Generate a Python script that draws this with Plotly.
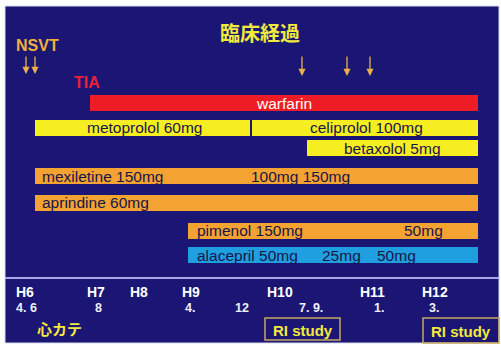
import plotly.graph_objects as go

# Timeline scale: horizontal positions are in timeline units (0-501),
# vertical positions are row centres (0 at top).
era_labels = ["H6", "H7", "H8", "H9", "H10", "H11", "H12"]
era_pos = [14, 85, 128, 180, 265, 358, 420]
month_labels = ["4. 6", "8", "4.", "12", "7. 9.", "1.", "3."]
month_pos = [14, 93, 183, 233, 297, 372, 427]

# Medication periods
drugs = ["warfarin", "metoprolol", "celiprolol", "betaxolol",
         "mexiletine", "aprindine", "pimenol", "alacepril"]
drug_start = [90, 35, 252, 307, 35, 35, 188, 188]
drug_end = [478, 250, 478, 478, 478, 478, 478, 478]
drug_row = [103, 127.5, 127.5, 148, 176, 202.5, 230.5, 255]
drug_color = ["#ee1c25", "#f7ee22", "#f7ee22", "#f7ee22",
              "#f4a232", "#f4a232", "#f4a232", "#1f9fe0"]

# Dose labels drawn on the bars: (text, timeline position, row, anchor)
dose_text = ["warfarin", "metoprolol 60mg", "celiprolol 100mg", "betaxolol 5mg",
             "mexiletine 150mg", "100mg 150mg", "aprindine 60mg",
             "pimenol 150mg", "50mg", "alacepril 50mg", "25mg", "50mg"]
dose_pos = [284, 144, 366, 392, 40, 249, 40, 195, 402, 195, 320, 375]
dose_row = [103, 127.5, 127.5, 148, 176, 176, 202.5, 230.5, 230.5, 255, 255, 255]
dose_anchor = ["center", "center", "center", "center", "left", "left", "left",
               "left", "left", "left", "left", "left"]

# Events marked with arrows
event_pos = [26, 35, 302, 347, 370]

NAVY = "#1b1674"
TEXT_DARK = "#181548"

fig = go.Figure()

# Panel background
fig.add_shape(type="rect", x0=5, x1=499, y0=6, y1=343,
              fillcolor=NAVY, line=dict(color="#d8d8ec", width=1), layer="below")

fig.add_trace(go.Bar(
    orientation="h",
    y=drug_row,
    x=[e - s for s, e in zip(drug_start, drug_end)],
    base=drug_start,
    width=16,
    marker=dict(color=drug_color, line=dict(width=0)),
    hoverinfo="skip",
    showlegend=False,
))

font_bar = "Liberation Sans, Arial, sans-serif"
for t, xp, yr, anc in zip(dose_text, dose_pos, dose_row, dose_anchor):
    fig.add_annotation(x=xp, y=yr, text=t, showarrow=False, xanchor=anc,
                       yanchor="middle",
                       font=dict(family=font_bar, size=15.5,
                                 color="white" if t == "warfarin" else TEXT_DARK))

# Event arrows
for xp in event_pos:
    y_tip = 74 if xp < 100 else 76
    fig.add_annotation(x=xp, y=y_tip, ax=xp, ay=55, xref="x", yref="y",
                       axref="x", ayref="y", text="", showarrow=True,
                       arrowhead=2, arrowsize=1.1, arrowwidth=1.3,
                       arrowcolor="#e8b04a")

# Title and event labels
fig.add_annotation(x=260, y=32, text="<b>臨床経過</b>", showarrow=False,
                   font=dict(family="Noto Sans CJK JP", size=20, color="#f2ea3c"))
fig.add_annotation(x=14, y=45, text="<b>NSVT</b>", showarrow=False, xanchor="left",
                   font=dict(family=font_bar, size=16, color="#f0b03c"))
fig.add_annotation(x=72, y=82, text="<b>TIA</b>", showarrow=False, xanchor="left",
                   font=dict(family=font_bar, size=16, color="#e8203c"))

# Time axis line
fig.add_shape(type="line", x0=5, x1=499, y0=278, y1=278,
              line=dict(color="#a8a8e8", width=2))

for t, xp in zip(era_labels, era_pos):
    fig.add_annotation(x=xp, y=292, text=f"<b>{t}</b>", showarrow=False,
                       xanchor="left",
                       font=dict(family=font_bar, size=14, color="white"))
for t, xp in zip(month_labels, month_pos):
    fig.add_annotation(x=xp, y=308, text=f"<b>{t}</b>", showarrow=False,
                       xanchor="left",
                       font=dict(family=font_bar, size=12.5, color="#f0f0f8"))

fig.add_annotation(x=35, y=328, text="<b>心カテ</b>", showarrow=False, xanchor="left",
                   font=dict(family="Noto Sans CJK JP", size=15, color="#f2ea3c"))

# RI study boxes
for x0, x1, y0, y1 in [(265, 340, 318, 340), (423, 499, 318, 343)]:
    fig.add_shape(type="rect", x0=x0, x1=x1, y0=y0, y1=y1,
                  line=dict(color="#c8a860", width=1.5), fillcolor="rgba(0,0,0,0)")
    fig.add_annotation(x=(x0 + x1) / 2, y=(y0 + y1) / 2 + 1, text="<b>RI study</b>",
                       showarrow=False,
                       font=dict(family=font_bar, size=15, color="#f2ea3c"))

fig.update_layout(
    width=501, height=348,
    margin=dict(l=0, r=0, t=0, b=0),
    paper_bgcolor="white", plot_bgcolor="white",
    xaxis=dict(range=[0, 501], visible=False, fixedrange=True),
    yaxis=dict(range=[348, 0], visible=False, fixedrange=True),
    bargap=0,
)

fig.write_html("out.html")
